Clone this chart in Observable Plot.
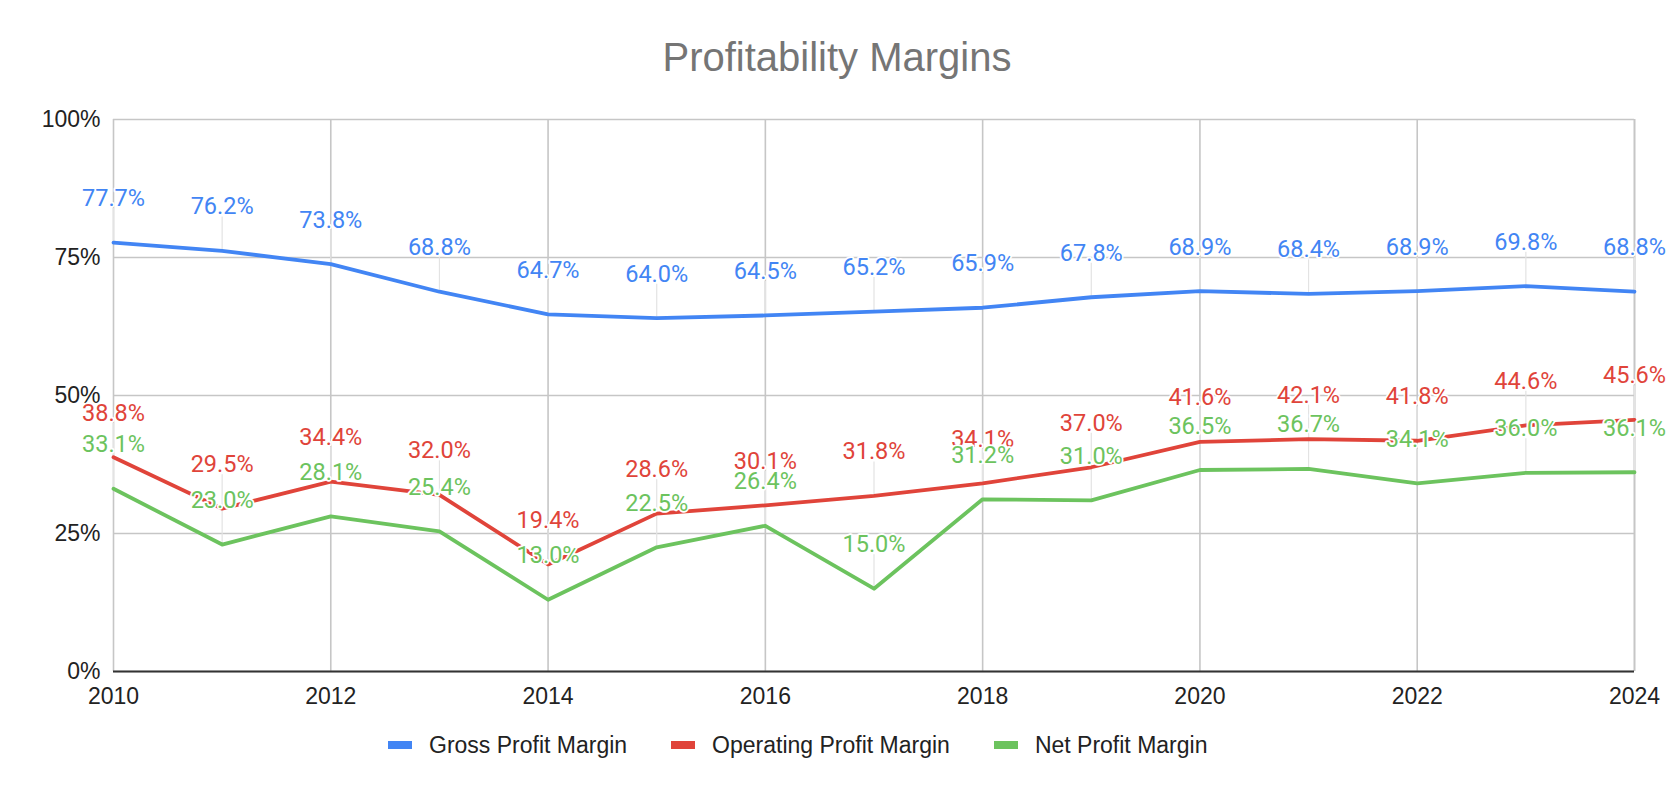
<!DOCTYPE html>
<html>
<head>
<meta charset="utf-8">
<script src="https://cdn.jsdelivr.net/npm/d3@7"></script>
<script src="https://cdn.jsdelivr.net/npm/@observablehq/plot@0.6"></script>
<style>
  html, body { margin: 0; padding: 0; background: #fff; }
  #title { height: 100px; box-sizing: border-box; padding-top: 37px; text-align: center;
           font-family: "Liberation Sans", Arial, sans-serif; font-size: 40px; line-height: 40px; color: #757575; }
  #legend { height: 48px; display: flex; align-items: center; box-sizing: border-box; padding-left: 388px;
            font-family: "Liberation Sans", Arial, sans-serif; font-size: 23px; color: #222; }
  .item { display: flex; align-items: center; margin-right: 44px; }
  .sw { width: 24px; height: 8px; margin-right: 17px; }
</style>
</head>
<body>
<div id="title">Profitability Margins</div>
<div id="chart"></div>
<div id="legend"></div>
<script>
const years = [2010, 2011, 2012, 2013, 2014, 2015, 2016, 2017, 2018, 2019, 2020, 2021, 2022, 2023, 2024];
const grossMargin = [77.7, 76.2, 73.8, 68.8, 64.7, 64.0, 64.5, 65.2, 65.9, 67.8, 68.9, 68.4, 68.9, 69.8, 68.8];
const operatingMargin = [38.8, 29.5, 34.4, 32.0, 19.4, 28.6, 30.1, 31.8, 34.1, 37.0, 41.6, 42.1, 41.8, 44.6, 45.6];
const netMargin = [33.1, 23.0, 28.1, 25.4, 13.0, 22.5, 26.4, 15.0, 31.2, 31.0, 36.5, 36.7, 34.1, 36.0, 36.1];
const seriesNames = ["Gross Profit Margin", "Operating Profit Margin", "Net Profit Margin"];
const seriesColors = ["#4285F4", "#E0443A", "#6CC35E"];
const yTicks = [0, 25, 50, 75, 100];
const xTicks = [2010, 2012, 2014, 2016, 2018, 2020, 2022, 2024];

const seriesValues = [grossMargin, operatingMargin, netMargin];
const data = [];
seriesNames.forEach((name, s) => {
  years.forEach((yr, i) => data.push({series: name, year: yr, value: seriesValues[s][i]}));
});

const chart = Plot.plot({
  width: 1674,
  height: 621,
  marginLeft: 113,
  marginRight: 40,
  marginTop: 19,
  marginBottom: 50,
  style: {fontFamily: "'Liberation Sans', Arial, sans-serif", fontSize: "23px", color: "#222", background: "#fff"},
  x: {domain: [2010, 2024], ticks: xTicks, tickFormat: d => String(d), tickSize: 0, tickPadding: 16, label: null},
  y: {domain: [0, 100], ticks: yTicks, tickFormat: d => d + "%", tickSize: 0, tickPadding: 13, label: null},
  color: {domain: seriesNames, range: seriesColors},
  marks: [
    Plot.gridY(yTicks, {stroke: "#c6c6c6", strokeOpacity: 1, strokeWidth: 1.6}),
    Plot.gridX(xTicks, {stroke: "#c6c6c6", strokeOpacity: 1, strokeWidth: 1.6}),
    Plot.ruleX([2024], {stroke: "#c6c6c6", strokeWidth: 1.6}),
    Plot.ruleX(data, {x: "year", y1: "value", y2: "value", insetBottom: 34, stroke: "#e3e3e3", strokeWidth: 1.2}),
    Plot.ruleY([0], {stroke: "#333", strokeWidth: 2.2}),
    Plot.line(data, {x: "year", y: "value", z: "series", stroke: "series", strokeWidth: 3.8, strokeLinejoin: "round"}),
    Plot.text(data, {x: "year", y: "value", z: "series", text: d => d.value.toFixed(1) + "%", fill: "series",
      dy: -44, fontFamily: "Roboto, sans-serif", fontSize: 23.5, stroke: "white", strokeWidth: 3.5, paintOrder: "stroke"})
  ]
});
document.getElementById("chart").appendChild(chart);

const legend = document.getElementById("legend");
seriesNames.forEach((name, i) => {
  const item = document.createElement("div");
  item.className = "item";
  const sw = document.createElement("div");
  sw.className = "sw";
  sw.style.background = seriesColors[i];
  const label = document.createElement("span");
  label.textContent = name;
  item.appendChild(sw);
  item.appendChild(label);
  legend.appendChild(item);
});
</script>
</body>
</html>
